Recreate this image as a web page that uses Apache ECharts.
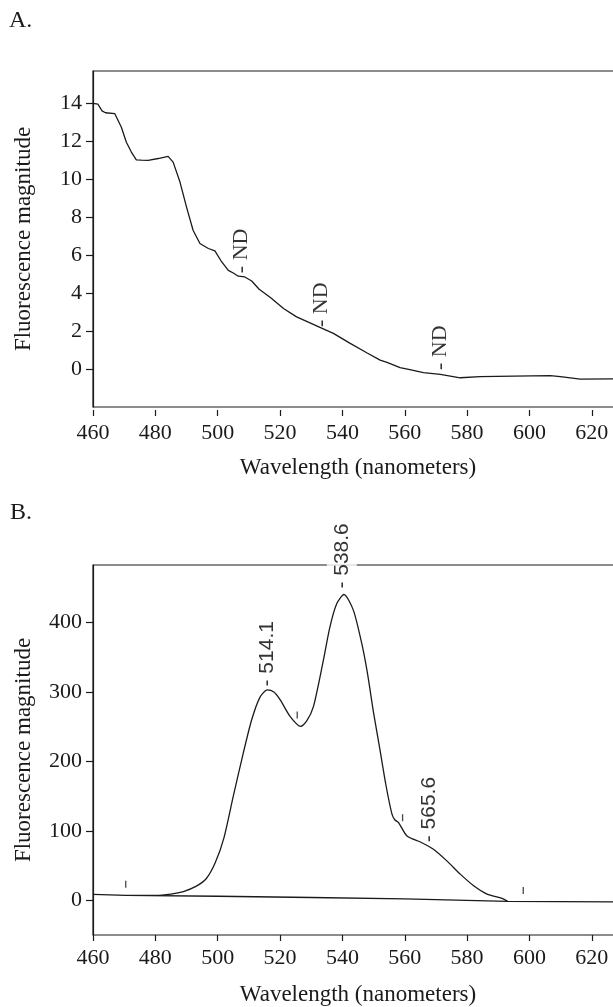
<!DOCTYPE html>
<html>
<head>
<meta charset="utf-8">
<script src="https://cdn.jsdelivr.net/npm/echarts@6/dist/echarts.min.js"></script>
<style>
  html, body { margin: 0; padding: 0; background: #fff; }
  #chart { width: 613px; height: 1007px; }
</style>
</head>
<body>
<div id="chart"></div>
<script>
// panel A: fluorescence curve
const wavelengthA = [460, 461.6, 462.9, 464, 467, 467.5, 469.1, 470.7, 472.3, 473.9, 475.5, 477.7, 480.9, 484.1, 485.7,
  487.9, 490, 492.1, 494.3, 497, 499.1, 501.3, 503.4, 505, 506.6, 508.7, 510.9, 513.3, 517, 521.1, 525.3, 529.6,
  532.8, 537.1, 542.5, 547.8, 552.1, 554.3, 558.5, 562, 566, 571.4, 577.8, 584.2, 594.9, 606.7, 609.9, 616.3, 630]
const magnitudeA = [14.0, 13.95, 13.6, 13.5, 13.45, 13.35, 12.74, 11.95, 11.43, 11.02, 11.0, 10.99, 11.09, 11.2, 10.9,
  9.85, 8.53, 7.31, 6.61, 6.35, 6.22, 5.64, 5.2, 5.06, 4.89, 4.85, 4.64, 4.2, 3.75, 3.19, 2.75, 2.43,
  2.19, 1.88, 1.35, 0.86, 0.47, 0.35, 0.07, -0.05, -0.19, -0.28, -0.46, -0.4, -0.37, -0.35, -0.4, -0.53, -0.51]
const ndWavelength = [507.4, 533.1, 571.4]
const ndMagnitude = [5.05, 2.21, -0.05]

// panel B: spectrum with peaks
const wavelengthB = [470.6, 480, 485, 489, 493, 496.3, 499.2, 502, 505, 508.2, 510.9, 513.5, 515.9, 518, 520, 523.2,
  526.6, 528.5, 530.7, 533.9, 536, 538.2, 540.5, 543.5, 546.2, 548, 550, 552, 554, 555.9, 556.8, 558, 560.7, 565,
  569.2, 573.5, 577.8, 582.1, 586.4, 591.2, 593]
const magnitudeB = [7, 7, 9, 12.6, 20, 31, 54, 90, 150, 212, 260, 292, 303, 300, 289, 265,
  250.5, 258, 279, 346, 394, 427.5, 440.5, 418, 370, 328, 270, 218, 165, 124, 116, 112, 92.7, 84,
  73.6, 56.8, 37.7, 21, 9, 2.9, -1.5]
const baselineWavelength = [460, 470.6, 500, 530, 560, 593, 630]
const baselineMagnitude = [8.5, 7.2, 5.8, 4, 2, -1.5, -2.2]
const peakLabels = ['514.1', '538.6', '565.6']
const peakWavelength = [515.9, 539.8, 567.9]
const peakMagnitude = [308, 449, 83.6]
const markWavelength = [470.5, 525.5, 559.3, 598]
const markMagnitude = [23, 267, 119, 14]

const xTicks = [460, 480, 500, 520, 540, 560, 580, 600, 620]
const yTicksA = [0, 2, 4, 6, 8, 10, 12, 14]
const yTicksB = [0, 100, 200, 300, 400]

const ink = '#1a1a1a'
const serif = 'Liberation Serif'
const zip = (xs, ys) => xs.map((x, i) => [x, ys[i]])

const chart = echarts.init(document.getElementById('chart'))

function xAxisFor(gridIndex, offset, nameGap) {
  return {
    gridIndex,
    type: 'value',
    min: 460,
    max: 630,
    offset,
    axisLine: { show: false, onZero: false },
    axisTick: { length: 6, customValues: xTicks, lineStyle: { color: ink, width: 1.2 } },
    axisLabel: { customValues: xTicks, color: ink, fontFamily: serif, fontSize: 22, margin: 12 },
    splitLine: { show: false },
    name: 'Wavelength (nanometers)',
    nameLocation: 'middle',
    nameGap,
    nameTextStyle: { color: ink, fontFamily: serif, fontSize: 23 },
  }
}

function yAxisFor(gridIndex, min, max, ticks) {
  return {
    gridIndex,
    type: 'value',
    min,
    max,
    axisLine: { show: true, onZero: false, lineStyle: { color: ink, width: 1.2 } },
    axisTick: { show: true, length: 7, customValues: ticks, lineStyle: { color: ink, width: 1.2 } },
    axisLabel: { customValues: ticks, color: ink, fontFamily: serif, fontSize: 22, margin: 11 },
    splitLine: { show: false },
    name: 'Fluorescence magnitude',
    nameLocation: 'middle',
    nameGap: 58,
    nameTextStyle: { color: ink, fontFamily: serif, fontSize: 23 },
  }
}

const gridBox = {
  show: true,
  borderColor: ink,
  borderWidth: 1.2,
  backgroundColor: 'transparent',
  outerBoundsMode: 'none',
  containLabel: false,
}

const rotatedLabel = {
  show: true,
  position: 'inside',
  rotate: 90,
  align: 'left',
  verticalAlign: 'middle',
  color: '#000',
  textBorderWidth: 0,
}

chart.setOption({
  animation: false,
  graphic: [
    { type: 'text', left: 9, top: 9, style: { text: 'A.', font: '24px "Liberation Serif"', fill: ink } },
    { type: 'text', left: 10, top: 501, style: { text: 'B.', font: '24px "Liberation Serif"', fill: ink } },
  ],
  grid: [
    { ...gridBox, left: 93, top: 71, width: 530, height: 336 },
    { ...gridBox, left: 93, top: 565, width: 530, height: 370 },
  ],
  xAxis: [xAxisFor(0, 3, 46), xAxisFor(1, 0, 48)],
  yAxis: [yAxisFor(0, -2, 15.7, yTicksA), yAxisFor(1, -50, 483, yTicksB)],
  series: [
    {
      type: 'line',
      xAxisIndex: 0,
      yAxisIndex: 0,
      data: zip(wavelengthA, magnitudeA),
      showSymbol: false,
      lineStyle: { color: ink, width: 1.3 },
      silent: true,
    },
    {
      type: 'scatter',
      xAxisIndex: 0,
      yAxisIndex: 0,
      data: zip(ndWavelength, ndMagnitude),
      symbolSize: 1,
      itemStyle: { color: 'transparent' },
      label: { ...rotatedLabel, formatter: '- ND', fontFamily: serif, fontSize: 22 },
      silent: true,
    },
    {
      type: 'line',
      xAxisIndex: 1,
      yAxisIndex: 1,
      data: zip(baselineWavelength, baselineMagnitude),
      showSymbol: false,
      lineStyle: { color: ink, width: 1.3 },
      silent: true,
    },
    {
      type: 'line',
      xAxisIndex: 1,
      yAxisIndex: 1,
      data: zip(wavelengthB, magnitudeB),
      smooth: 0.25,
      showSymbol: false,
      lineStyle: { color: ink, width: 1.3 },
      silent: true,
    },
    {
      type: 'scatter',
      xAxisIndex: 1,
      yAxisIndex: 1,
      data: peakWavelength.map((x, i) => ({
        value: [x, peakMagnitude[i]],
        name: peakLabels[i],
        label: i === 1 ? { backgroundColor: '#fff', padding: [4, 0] } : {},
      })),
      symbolSize: 1,
      itemStyle: { color: 'transparent' },
      label: {
        ...rotatedLabel,
        formatter: (p) => '- ' + p.name,
        fontFamily: 'Liberation Sans',
        fontSize: 21,
        lineHeight: 22,
      },
      silent: true,
      z: 5,
    },
    {
      type: 'scatter',
      xAxisIndex: 1,
      yAxisIndex: 1,
      data: zip(markWavelength, markMagnitude),
      symbol: 'rect',
      symbolSize: [1.3, 7],
      itemStyle: { color: ink },
      silent: true,
    },
  ],
})
</script>
</body>
</html>
